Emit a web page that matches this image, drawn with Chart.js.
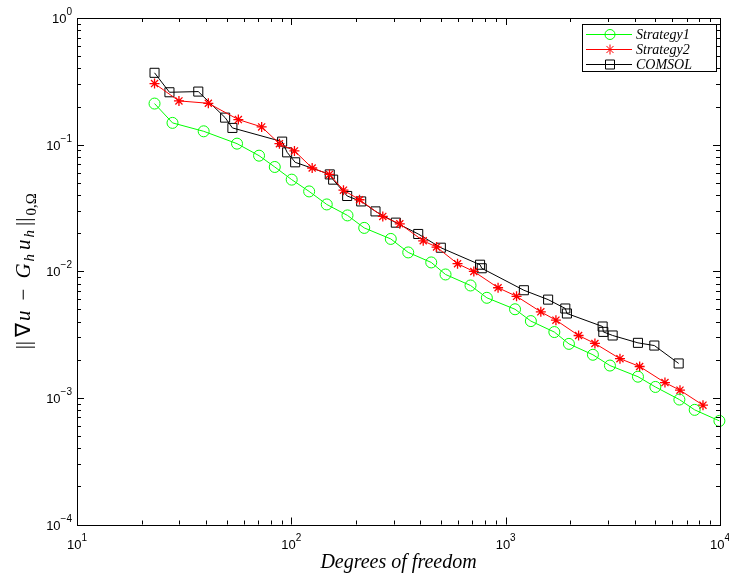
<!DOCTYPE html>
<html>
<head>
<meta charset="utf-8">
<script src="https://cdn.jsdelivr.net/npm/chart.js@4.4.0/dist/chart.umd.min.js"></script>
<style>
  html, body { margin: 0; padding: 0; background: #fff; }
  #wrap { width: 729px; height: 575px; }
</style>
</head>
<body>
<div id="wrap"><canvas id="myChart" width="729" height="575"></canvas></div>
<script>
// values (degrees of freedom vs. error)
const s1Dofs = [23.0, 27.9, 39.0, 55.8, 70.7, 83.7, 100.4, 121.1, 146.3, 182.8, 218.8, 291.1, 351.1, 449.5, 524.1, 685.6, 817, 1106, 1311, 1687, 1973, 2553, 3065, 4142, 4994, 6464, 7619, 9936];
const s1Err = [0.2110, 0.1485, 0.1274, 0.1018, 0.0818, 0.0666, 0.0529, 0.0427, 0.0337, 0.0276, 0.0220, 0.0180, 0.01408, 0.01174, 0.00943, 0.00772, 0.00617, 0.00501, 0.00404, 0.00331, 0.00267, 0.00219, 0.00180, 0.00147, 0.00122, 0.00097, 0.000804, 0.000658];

const s2Dofs = [23.0, 29.9, 41.0, 56.6, 72.7, 88.0, 103.4, 125.1, 150.6, 175.1, 208.0, 267.1, 320.7, 412.4, 475.9, 596.3, 710.3, 921.6, 1124, 1459, 1716, 2189, 2609, 3414, 4218, 5536, 6506, 8329];
const s2Err = [0.3035, 0.2215, 0.2121, 0.1577, 0.1380, 0.1018, 0.0892, 0.0654, 0.0582, 0.0437, 0.0367, 0.0271, 0.0237, 0.0174, 0.01553, 0.01147, 0.00996, 0.00741, 0.00634, 0.00478, 0.00411, 0.00311, 0.00269, 0.00204, 0.00177, 0.00132, 0.00115, 0.000876];

const comsolDofs = [23.0, 27.0, 36.8, 49.1, 53.1, 90.6, 95.6, 104.2, 151.1, 156.7, 182.2, 211.8, 247.0, 307.3, 390.8, 498.3, 759.5, 773.4, 1216, 1578, 1898, 1931, 2834, 2855, 3156, 4142, 4939, 6415];
const comsolErr = [0.3691, 0.2591, 0.2624, 0.1634, 0.1355, 0.1056, 0.0869, 0.0725, 0.0582, 0.0529, 0.0393, 0.0356, 0.0297, 0.0242, 0.0197, 0.01534, 0.01126, 0.01056, 0.00708, 0.00597, 0.00508, 0.00464, 0.00366, 0.00332, 0.00311, 0.00272, 0.00259, 0.00187];

const seriesNames = ['Strategy1', 'Strategy2', 'COMSOL'];

// major ticks (decades) and their exponent labels
const xDecades = [10, 100, 1000, 10000];
const xExpLabels = ['1', '2', '3', '4'];
const yDecades = [1e-4, 1e-3, 1e-2, 1e-1, 1];
const yExpLabels = ['\u22124', '\u22123', '\u22122', '\u22121', '0'];

function toPoints(xs, ys) {
    return xs.map((x, i) => ({ x: x, y: ys[i] }));
}

// draw a string made of pieces with own font and vertical shift
function drawRich(ctx, parts, x, y, align) {
    let total = 0;
    parts.forEach(p => { ctx.font = p.font; p.w = ctx.measureText(p.text).width; total += p.w + (p.gap || 0); });
    let cx = x;
    if (align === 'center') cx = x - total / 2;
    if (align === 'right') cx = x - total;
    ctx.textAlign = 'left';
    ctx.textBaseline = 'alphabetic';
    parts.forEach(p => {
        ctx.font = p.font;
        ctx.fillText(p.text, cx, y + (p.dy || 0));
        cx += p.w + (p.gap || 0);
    });
    return total;
}

function drawMarker(ctx, style, x, y, color) {
    ctx.save();
    ctx.strokeStyle = color;
    ctx.lineWidth = 1;
    ctx.beginPath();
    if (style === 'circle') {
        ctx.arc(x, y, 5, 0, Math.PI * 2);
    } else if (style === 'rect') {
        ctx.rect(x - 4.5, y - 4.5, 9, 9);
    } else {
        for (let a = 0; a < 4; a++) {
            const t = a * Math.PI / 4;
            ctx.moveTo(x - 5 * Math.cos(t), y - 5 * Math.sin(t));
            ctx.lineTo(x + 5 * Math.cos(t), y + 5 * Math.sin(t));
        }
    }
    ctx.stroke();
    ctx.restore();
}

const serif = '"Liberation Serif", "Times New Roman", serif';
const labelFont = '13px "Liberation Sans", Arial, sans-serif';
const expFont = '10px "Liberation Sans", Arial, sans-serif';
const mathFont = 'italic 21px ' + serif;
const romanFont = '21px ' + serif;
const subItFont = 'italic 15px ' + serif;
const subFont = '15px ' + serif;

const axesPlugin = {
    id: 'matlabAxes',
    afterDraw(chart) {
        const ctx = chart.ctx;
        const a = chart.chartArea;
        const xs = chart.scales.x;
        const ys = chart.scales.y;
        ctx.save();
        ctx.strokeStyle = '#000';
        ctx.lineWidth = 1;

        // ticks, inward on all four sides
        ctx.beginPath();
        xDecades.forEach((d, i) => {
            for (let m = 1; m <= 9; m++) {
                if (m > 1 && i === xDecades.length - 1) break;
                const px = Math.round(xs.getPixelForValue(d * m)) + 0.5;
                const len = m === 1 ? 7 : 4;
                ctx.moveTo(px, a.bottom); ctx.lineTo(px, a.bottom - len);
                ctx.moveTo(px, a.top); ctx.lineTo(px, a.top + len);
            }
        });
        yDecades.forEach((d, i) => {
            for (let m = 1; m <= 9; m++) {
                if (m > 1 && i === yDecades.length - 1) break;
                const py = Math.round(ys.getPixelForValue(d * m)) + 0.5;
                const len = m === 1 ? 7 : 4;
                ctx.moveTo(a.left, py); ctx.lineTo(a.left + len, py);
                ctx.moveTo(a.right, py); ctx.lineTo(a.right - len, py);
            }
        });
        ctx.stroke();

        // frame
        ctx.strokeRect(Math.round(a.left) + 0.5, Math.round(a.top) + 0.5,
            Math.round(a.right - a.left), Math.round(a.bottom - a.top));

        // tick labels as 10^n
        ctx.fillStyle = '#000';
        xDecades.forEach((d, i) => {
            const px = xs.getPixelForValue(d);
            drawRich(ctx, [
                { text: '10', font: labelFont },
                { text: xExpLabels[i], font: expFont, dy: -8 }
            ], px, a.bottom + 24, 'center');
        });
        yDecades.forEach((d, i) => {
            const py = ys.getPixelForValue(d);
            drawRich(ctx, [
                { text: '10', font: labelFont },
                { text: yExpLabels[i], font: expFont, dy: -8 }
            ], a.left - 5, py + 5, 'right');
        });

        // x axis title
        ctx.font = 'italic 20px ' + serif;
        ctx.textAlign = 'center';
        ctx.textBaseline = 'alphabetic';
        ctx.fillText('Degrees of freedom', (a.left + a.right) / 2, 568);

        // y axis title, rotated
        ctx.save();
        ctx.translate(30, (a.top + a.bottom) / 2);
        ctx.rotate(-Math.PI / 2);
        drawRich(ctx, [
            { text: '||', font: romanFont, gap: 4 },
            { text: '\u2207', font: romanFont, gap: 2 },
            { text: 'u', font: mathFont, gap: 10 },
            { text: '\u2212', font: romanFont, gap: 10 },
            { text: 'G', font: mathFont, gap: 2 },
            { text: 'h', font: subItFont, dy: 4, gap: 4 },
            { text: 'u', font: mathFont, gap: 2 },
            { text: 'h', font: subItFont, dy: 4, gap: 4 },
            { text: '||', font: romanFont, gap: 2 },
            { text: '0,\u03A9', font: subFont, dy: 6 }
        ], 0, 0, 'center');
        ctx.restore();

        // legend box
        const lx = 582.5, ly = 24.5, lw = 134, lh = 47;
        ctx.fillStyle = '#fff';
        ctx.fillRect(lx, ly, lw, lh);
        ctx.strokeStyle = '#000';
        ctx.strokeRect(lx, ly, lw, lh);
        chart.data.datasets.forEach((ds, i) => {
            const yy = 34 + i * 15;
            ctx.strokeStyle = ds.borderColor;
            ctx.beginPath();
            ctx.moveTo(586, yy + 0.5); ctx.lineTo(632, yy + 0.5);
            ctx.stroke();
            drawMarker(ctx, ds.pointStyle, 610, yy + 0.5, ds.borderColor);
            ctx.fillStyle = '#000';
            ctx.font = 'italic 14px ' + serif;
            ctx.textAlign = 'left';
            ctx.fillText(ds.label, 636, yy + 5);
        });
        ctx.restore();
    }
};

const ctx = document.getElementById('myChart').getContext('2d');

const myChart = new Chart(ctx, {
    type: 'line',
    data: {
        datasets: [{
            label: seriesNames[0],
            data: toPoints(s1Dofs, s1Err),
            borderColor: '#00ff00',
            backgroundColor: 'transparent',
            pointStyle: 'circle',
            pointRadius: 5.5,
            pointBorderWidth: 1,
            borderWidth: 1
        }, {
            label: seriesNames[1],
            data: toPoints(s2Dofs, s2Err),
            borderColor: '#ff0000',
            backgroundColor: 'transparent',
            pointStyle: 'star',
            pointRadius: 5,
            pointBorderWidth: 1.3,
            borderWidth: 1
        }, {
            label: seriesNames[2],
            data: toPoints(comsolDofs, comsolErr),
            borderColor: '#000000',
            backgroundColor: 'transparent',
            pointStyle: 'rect',
            pointRadius: 6.4,
            pointBorderWidth: 1,
            borderWidth: 1
        }]
    },
    options: {
        responsive: false,
        animation: false,
        devicePixelRatio: 1,
        clip: false,
        layout: { padding: { top: 18, right: 9, left: 0, bottom: 0 } },
        plugins: {
            legend: { display: false },
            tooltip: { enabled: false }
        },
        scales: {
            x: {
                type: 'logarithmic',
                min: 10,
                max: 10000,
                grid: { display: false },
                border: { display: false },
                ticks: { display: false },
                afterFit: function (scale) { scale.height = 50.5; }
            },
            y: {
                type: 'logarithmic',
                min: 1e-4,
                max: 1,
                grid: { display: false },
                border: { display: false },
                ticks: { display: false },
                afterFit: function (scale) { scale.width = 77; }
            }
        }
    },
    plugins: [axesPlugin]
});
</script>
</body>
</html>
